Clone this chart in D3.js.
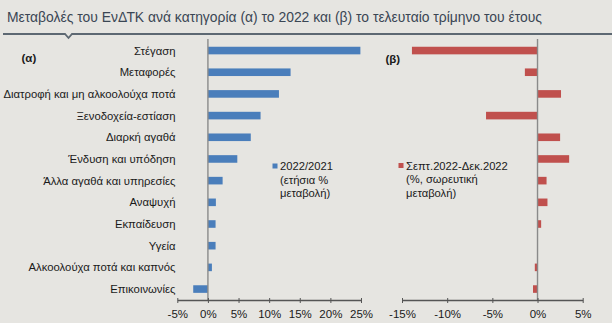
<!DOCTYPE html>
<html>
<head>
<meta charset="utf-8">
<script src="https://cdn.jsdelivr.net/npm/d3@7/dist/d3.min.js"></script>
<style>
  html, body { margin: 0; padding: 0; background: #e6e5e1; }
  svg { display: block; font-family: "Liberation Sans", Arial, sans-serif; }
</style>
</head>
<body>
<svg id="chart" width="612" height="323"></svg>
<script>
// Categories (top to bottom)
const categories = [
  "Στέγαση",
  "Μεταφορές",
  "Διατροφή και μη αλκοολούχα ποτά",
  "Ξενοδοχεία-εστίαση",
  "Διαρκή αγαθά",
  "Ένδυση και υπόδηση",
  "Άλλα αγαθά και υπηρεσίες",
  "Αναψυχή",
  "Εκπαίδευση",
  "Υγεία",
  "Αλκοολούχα ποτά και καπνός",
  "Επικοινωνίες"
];

// (α) annual % change 2022/2021
const annual = [24.9, 13.5, 11.6, 8.6, 7.0, 4.8, 2.4, 1.3, 1.25, 1.25, 0.65, -2.4];

// (β) cumulative % change Sep.2022–Dec.2022
const quarter = [-13.9, -1.4, 2.6, -5.7, 2.5, 3.5, 1.0, 1.1, 0.4, 0.05, -0.3, -0.5];

const ticksA = [-5, 0, 5, 10, 15, 20, 25];
const ticksB = [-15, -10, -5, 0, 5];

const titleText = "Μεταβολές του ΕνΔΤΚ ανά κατηγορία (α) το 2022 και (β) το τελευταίο τρίμηνο του έτους";
const legendA = ["2022/2021", "(ετήσια %", "μεταβολή)"];
const legendB = ["Σεπτ.2022-Δεκ.2022", "(%, σωρευτική", "μεταβολή)"];

const blue = "#4a7ebb";
const red = "#c0504d";

const svg = d3.select("#chart");

// Title and rule with a small notch
svg.append("text")
  .attr("x", 7).attr("y", 22)
  .attr("font-size", 13.9)
  .attr("fill", "#3a4654")
  .text(titleText);

svg.append("path")
  .attr("d", "M3,34 L65,34 L68.5,38 L72,34 L612,34")
  .attr("fill", "none")
  .attr("stroke", "#5d6872")
  .attr("stroke-width", 1.8);

const axisY = 300;
const y = d3.scaleBand()
  .domain(categories)
  .range([39.6, axisY])
  .paddingInner(0.65)
  .paddingOuter(0.33);

const xA = d3.scaleLinear().domain([-5, 25]).range([177.3, 361]);
const xB = d3.scaleLinear().domain([-15, 5]).range([402, 582.7]);

// Category labels
svg.append("g").selectAll("text")
  .data(categories)
  .join("text")
  .attr("x", 175.5)
  .attr("y", d => y(d) + y.bandwidth() / 2)
  .attr("dy", "0.35em")
  .attr("text-anchor", "end")
  .attr("font-size", 11.3)
  .attr("fill", "#1a1a1a")
  .text(d => d);

// Panel markers
svg.append("text").attr("x", 21.5).attr("y", 62).attr("font-size", 11.5)
  .attr("font-weight", "bold").attr("fill", "#1a1a1a").text("(α)");
svg.append("text").attr("x", 385.5).attr("y", 63).attr("font-size", 11.5)
  .attr("font-weight", "bold").attr("fill", "#1a1a1a").text("(β)");

function panel(x, values, ticks, color) {
  const g = svg.append("g");
  g.selectAll("rect")
    .data(values)
    .join("rect")
    .attr("x", d => x(Math.min(0, d)))
    .attr("width", d => Math.abs(x(d) - x(0)))
    .attr("y", (d, i) => y(categories[i]))
    .attr("height", y.bandwidth())
    .attr("fill", color);

  // zero line
  g.append("line")
    .attr("x1", x(0)).attr("x2", x(0))
    .attr("y1", 39).attr("y2", axisY)
    .attr("stroke", "#8a8a8a").attr("stroke-width", 1.4);

  // bottom axis
  const ax = g.append("g")
    .attr("transform", `translate(0,${axisY})`)
    .call(d3.axisBottom(x).tickValues(ticks).tickFormat(d => d + "%")
      .tickSizeInner(3).tickSizeOuter(0).tickPadding(7));
  ax.select(".domain").attr("stroke", "#555").attr("stroke-width", 1.3);
  ax.selectAll(".tick line").attr("stroke", "#555").attr("y1", -2).attr("y2", 3);
  ax.selectAll(".tick text").attr("font-size", 11.5).attr("fill", "#1a1a1a")
    .attr("font-family", "\"Liberation Sans\", Arial, sans-serif");
}

panel(xA, annual, ticksA, blue);
panel(xB, quarter, ticksB, red);

function legend(x0, yy, lines, color) {
  const g = svg.append("g");
  g.append("rect").attr("x", x0).attr("y", yy - 3).attr("width", 5).attr("height", 5).attr("fill", color);
  g.selectAll("text")
    .data(lines)
    .join("text")
    .attr("x", x0 + 7.5)
    .attr("y", (d, i) => yy + i * 13.5)
    .attr("dy", "0.35em")
    .attr("font-size", 11.2)
    .attr("fill", "#1a1a1a")
    .text(d => d);
}
legend(272.5, 166.5, legendA, blue);
legend(398.5, 166, legendB, red);
</script>
</body>
</html>
